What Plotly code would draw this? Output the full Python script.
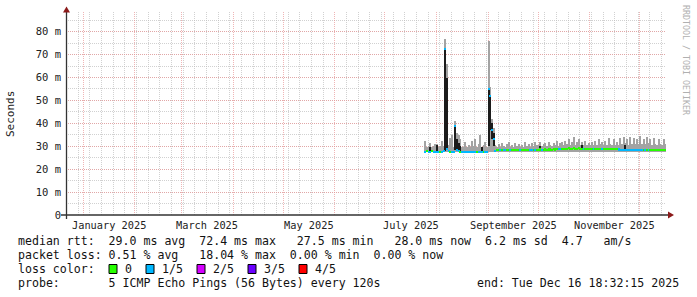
import pandas as pd
import plotly.graph_objects as go

# ---------------- data (daily, 2025-07-25 .. 2025-12-16) ----------------
start_day = "2025-07-25"
median_ms = [
    # Jul 25-31
    27.6, 27.8, 27.7, 27.6, 27.8, 27.6, 27.7,
    # Aug 1-31
    27.7, 27.6, 27.7, 27.6, 27.8, 72.4, 29.0, 27.8, 27.7, 27.6,
    27.6, 39.0, 28.5, 28.0, 27.7, 27.6, 27.5, 27.5, 27.5, 27.5,
    27.5, 27.6, 27.5, 27.6, 27.5, 27.6, 27.6, 27.7, 27.6, 27.6, 27.6,
    # Sep 1-30
    55.0, 52.0, 37.0, 33.0, 28.0, 28.2, 28.2, 28.2, 28.2, 28.2,
    28.2, 28.2, 28.2, 28.2, 28.2, 28.2, 28.2, 28.2, 28.2, 28.2,
    28.2, 28.3, 28.3, 28.3, 28.3, 28.3, 28.3, 28.3, 28.3, 28.3,
    # Oct 1-31
    28.5, 28.6, 28.5, 28.5, 28.6, 28.5, 28.6, 28.6, 28.5, 28.7,
    28.6, 28.8, 28.7, 28.8, 28.9, 29.0, 29.0, 29.0, 29.1, 29.0,
    29.0, 29.1, 29.0, 29.0, 29.1, 29.0, 29.0, 28.7, 28.8, 28.7, 28.8,
    # Nov 1-30
    28.7, 28.8, 28.7, 28.7, 28.7, 28.8, 28.7, 28.7, 28.7, 28.8,
    28.7, 28.8, 28.7, 28.7, 28.8, 28.7, 28.7, 28.6, 28.5, 28.4,
    28.4, 28.3, 28.3, 28.2, 28.3, 28.2, 28.3, 28.3, 28.3, 28.3,
    # Dec 1-16
    28.3, 28.3, 28.3, 28.3, 28.4, 28.3, 28.3, 28.3, 28.3, 28.3,
    28.2, 28.2, 28.2, 28.2, 28.2, 28.2,
]
max_ms = [
    # Jul 25-31
    32.5, 29.5, 30.0, 31.5, 29.5, 30.0, 31.0,
    # Aug 1-31
    31.0, 29.5, 30.0, 32.5, 30.0, 77.0, 66.0, 30.5, 33.5, 35.0,
    29.5, 41.0, 36.0, 35.0, 33.0, 29.5, 29.5, 32.0, 29.5, 30.5,
    29.5, 32.5, 30.0, 33.0, 29.5, 31.0, 35.0, 29.5, 30.5, 32.0, 29.5,
    # Sep 1-30
    76.0, 56.0, 42.0, 38.0, 30.5, 29.5, 31.0, 29.5, 31.5, 30.0,
    29.5, 31.0, 32.0, 29.5, 30.5, 29.5, 31.5, 30.0, 31.0, 29.5,
    30.5, 29.5, 32.0, 30.0, 31.0, 29.5, 31.5, 30.0, 32.0, 30.5,
    # Oct 1-31
    30.5, 32.0, 30.0, 31.0, 31.5, 30.0, 32.0, 30.5, 30.0, 31.5,
    30.5, 32.5, 30.0, 31.5, 32.0, 30.5, 32.5, 31.0, 33.0, 30.5,
    32.0, 34.0, 30.5, 32.0, 33.0, 30.5, 32.0, 30.5, 32.5, 30.5, 31.5,
    # Nov 1-30
    30.5, 32.0, 30.5, 32.5, 30.5, 33.0, 31.0, 32.0, 30.5, 32.5,
    30.5, 33.5, 31.0, 30.5, 33.0, 30.5, 32.0, 30.5, 33.5, 31.0,
    34.0, 31.5, 33.0, 30.5, 34.0, 31.0, 33.5, 31.0, 33.0, 31.0,
    # Dec 1-16
    34.5, 31.0, 33.0, 31.0, 34.0, 31.5, 33.0, 30.5, 33.5, 31.0,
    30.5, 33.0, 31.0, 30.5, 33.0, 31.0,
]
loss_idx = [
    # Jul 25-31
    1, 0, 1, 1, 0, 1, 1,
    # Aug
    1, 1, 0, 1, 1, 1, 1, 1, 0, 1, 1, 1, 1, 1, 0, 1, 1, 1, 1, 1,
    1, 1, 1, 1, 0, 1, 1, 1, 0, 1, 1,
    # Sep
    1, 1, 1, 1, 1, 0, 0, 1, 0, 1, 1, 0, 0, 1, 0, 0, 0, 0, 0, 1,
    0, 0, 0, 0, 0, 1, 1, 0, 1, 0,
    # Oct
    0, 0, 1, 0, 0, 0, 0, 0, 0, 0, 0, 0, 1, 1, 0, 0, 0, 0, 0, 0,
    0, 0, 0, 0, 0, 0, 0, 1, 0, 0, 0,
    # Nov
    0, 0, 1, 0, 0, 0, 0, 1, 0, 0, 0, 0, 0, 0, 0, 0, 0, 1, 1, 1,
    1, 1, 1, 1, 1, 1, 1, 1, 1, 1,
    # Dec
    1, 1, 0, 1, 0, 1, 0, 0, 0, 0, 0, 0, 0, 0, 0, 0,
]
min_rtt = 27.5

# dark smoke (dense ping spread) on a few days
dark_dates = ["2025-07-28", "2025-08-01", "2025-08-06", "2025-08-07", "2025-08-12",
              "2025-08-13", "2025-08-14", "2025-08-15", "2025-08-28", "2025-09-01",
              "2025-09-02", "2025-09-03", "2025-09-04", "2025-10-02", "2025-10-27",
              "2025-11-22"]
dark_lo = [27.6, 27.7, 28.0, 28.5, 28.5, 28.0, 27.8, 27.7, 27.7, 30.0,
           37.0, 33.0, 30.0, 28.6, 29.0, 28.3]
dark_hi = [29.5, 30.5, 72.0, 60.0, 39.0, 33.0, 31.5, 30.0, 29.5, 55.0,
           52.0, 40.0, 36.0, 30.0, 30.5, 30.5]

loss_labels = ["0", "1/5", "2/5", "3/5", "4/5"]
loss_colors = ["#26ff00", "#00b8ff", "#d400ff", "#6a00ff", "#ff0000"]

y_ticks = [0, 10, 20, 30, 40, 50, 60, 70, 80]
y_tick_text = ["0", "10 m", "20 m", "30 m", "40 m", "50 m", "60 m", "70 m", "80 m"]
month_labels = ["January 2025", "March 2025", "May 2025", "July 2025",
                "September 2025", "November 2025"]
month_label_at = ["2025-01-16 12:00", "2025-03-16 12:00", "2025-05-16 12:00",
                  "2025-07-16 12:00", "2025-09-16", "2025-11-16"]

legend_lines = [
    "median rtt:  29.0 ms avg  72.4 ms max   27.5 ms min   28.0 ms now  6.2 ms sd  4.7   am/s",
    "packet loss: 0.51 % avg   18.04 % max  0.00 % min  0.00 % now",
    "loss color:",
    "probe:       5 ICMP Echo Pings (56 Bytes) every 120s",
]
end_text = "end: Tue Dec 16 18:32:15 2025"

# ---------------- figure ----------------
W, H = 697, 297
L, R, T, B = 66, 31, 12, 82
PW, PH = W - L - R, H - T - B


def px(x):
    return (x - L) / PW


def py(y):
    return (H - B - y) / PH


def nb(s):
    return s.replace(" ", "\u00a0")


days = pd.date_range(start_day + " 12:00", periods=len(median_ms), freq="D")
DAY = 86400000

fig = go.Figure()
fig.add_trace(go.Bar(
    x=days, y=[m - min_rtt for m in max_ms], base=[min_rtt] * len(max_ms),
    width=DAY, marker=dict(color="#a3a3a3", line=dict(width=0)),
    hoverinfo="skip", showlegend=False))
dark_x = pd.to_datetime(dark_dates) + pd.Timedelta(hours=12)
fig.add_trace(go.Bar(
    x=dark_x, y=[h - l for h, l in zip(dark_hi, dark_lo)], base=dark_lo,
    width=DAY, marker=dict(color="#1c1c1c", line=dict(width=0)),
    hoverinfo="skip", showlegend=False))
band = 0.9
fig.add_trace(go.Bar(
    x=days, y=[band] * len(median_ms), base=[m - band / 2 for m in median_ms],
    width=DAY, marker=dict(color=[loss_colors[i] for i in loss_idx], line=dict(width=0)),
    hoverinfo="skip", showlegend=False))

mono = "DejaVu Sans Mono"
major_grid = "rgba(232,150,150,0.7)"
minor_grid = "rgba(190,190,190,0.7)"

fig.update_layout(
    width=W, height=H, margin=dict(l=L, r=R, t=T, b=B, pad=0),
    paper_bgcolor="white", plot_bgcolor="white",
    barmode="overlay", bargap=0, showlegend=False,
    font=dict(family=mono, size=10.5, color="#222"),
    xaxis=dict(
        type="date", range=["2024-12-21 18:32:15", "2025-12-16 18:32:15"],
        tick0="2025-01-01", dtick="M1", showticklabels=False, ticks="",
        showgrid=True, gridcolor=major_grid, griddash="1px,1px", gridwidth=1,
        minor=dict(tick0="2024-12-29", dtick=7 * DAY, showgrid=True,
                   gridcolor=minor_grid, griddash="1px,1px", gridwidth=1),
        showline=False, zeroline=False, fixedrange=True),
    yaxis=dict(
        range=[0, 88.6], tickvals=y_ticks, ticktext=y_tick_text, ticks="",
        ticklabelstandoff=4, tickfont=dict(family=mono, size=10.5, color="#222"),
        showgrid=True, gridcolor=major_grid, griddash="1px,1px", gridwidth=1,
        minor=dict(dtick=5, tick0=0, showgrid=True, gridcolor=minor_grid,
                   griddash="1px,1px", gridwidth=1),
        showline=False, zeroline=False, fixedrange=True),
)

# axis lines with arrows
axis_col = "#333333"
arrow_col = "#8b1a1a"
fig.add_shape(type="line", xref="paper", yref="paper", x0=px(61), x1=px(670),
              y0=py(215), y1=py(215), line=dict(color=axis_col, width=1.3))
fig.add_shape(type="line", xref="paper", yref="paper", x0=px(66.5), x1=px(66.5),
              y0=py(219), y1=py(12), line=dict(color=axis_col, width=1.3))
fig.add_shape(type="path", xref="paper", yref="paper",
              path=f"M {px(674)},{py(215)} L {px(668)},{py(211.5)} L {px(668)},{py(218.5)} Z",
              fillcolor=arrow_col, line=dict(width=0))
fig.add_shape(type="path", xref="paper", yref="paper",
              path=f"M {px(66.5)},{py(6.5)} L {px(63)},{py(12.5)} L {px(70)},{py(12.5)} Z",
              fillcolor=arrow_col, line=dict(width=0))

# month labels
for lab, at in zip(month_labels, month_label_at):
    fig.add_annotation(x=at, xref="x", y=py(225), yref="paper", text=lab,
                       showarrow=False, xanchor="center", yanchor="middle",
                       font=dict(family=mono, size=10.3, color="#222"))

# y title
fig.add_annotation(x=px(10), y=py(114), xref="paper", yref="paper", text="Seconds",
                   textangle=-90, showarrow=False, xanchor="center", yanchor="middle",
                   font=dict(family=mono, size=11, color="#222"))
# watermark
fig.add_annotation(x=px(686), y=py(60), xref="paper", yref="paper",
                   text="RRDTOOL / TOBI OETIKER", textangle=90, showarrow=False,
                   xanchor="center", yanchor="middle",
                   font=dict(family=mono, size=8.3, color="#b0b0b0"))

# legend lines
leg_font = dict(family=mono, size=11.58, color="#111")
row_y = [241, 255, 269, 283]
for txt, yy in zip(legend_lines, row_y):
    fig.add_annotation(x=px(16), y=py(yy), xref="paper", yref="paper", text=nb(txt),
                       showarrow=False, xanchor="left", yanchor="middle", font=leg_font)
fig.add_annotation(x=px(681), y=py(283), xref="paper", yref="paper", text=nb(end_text),
                   showarrow=False, xanchor="right", yanchor="middle", font=leg_font)
box_left = [109, 146, 197, 248, 299]
for bx, col, lab in zip(box_left, loss_colors, loss_labels):
    fig.add_shape(type="rect", xref="paper", yref="paper",
                  x0=px(bx), x1=px(bx + 8), y0=py(273.5), y1=py(264.5),
                  fillcolor=col, line=dict(color="black", width=1))
    fig.add_annotation(x=px(bx + 14), y=py(269), xref="paper", yref="paper", text=lab,
                       showarrow=False, xanchor="left", yanchor="middle", font=leg_font)

fig.write_html("out.html")
